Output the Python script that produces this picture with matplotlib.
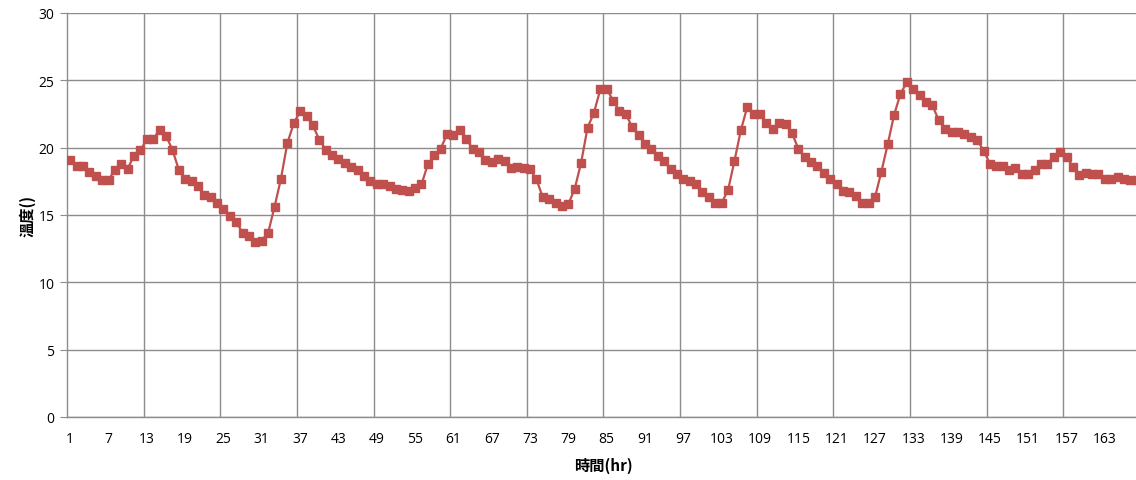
import numpy as np
import matplotlib
matplotlib.use("Agg")
import matplotlib.pyplot as plt

# hourly temperature readings, hours 1..168
hours = np.arange(1, 169)
temp = [
    19.06, 18.62, 18.62, 18.20, 17.88, 17.59, 17.59, 18.37, 18.77, 18.45,
    19.41, 19.80, 20.64, 20.64, 21.33, 20.89, 19.85, 18.37, 17.68, 17.50,
    17.17, 16.45, 16.30, 15.86, 15.44, 14.95, 14.46, 13.69, 13.45, 13.03,
    13.10, 13.69, 15.62, 17.70, 20.34, 21.80, 22.71, 22.36, 21.65, 20.59,
    19.85, 19.43, 19.19, 18.87, 18.57, 18.37, 17.93, 17.54, 17.27, 17.27,
    17.17, 16.95, 16.85, 16.80, 16.97, 17.27, 18.77, 19.43, 19.93, 20.99,
    20.91, 21.33, 20.67, 19.93, 19.68, 19.06, 18.94, 19.19, 18.99, 18.50,
    18.57, 18.48, 18.40, 17.65, 16.30, 16.22, 15.90, 15.65, 15.80, 16.96,
    18.89, 21.48, 22.59, 24.32, 24.37, 23.50, 22.72, 22.47, 21.53, 20.91,
    20.30, 19.93, 19.36, 19.01, 18.40, 18.07, 17.70, 17.53, 17.28, 16.72,
    16.30, 15.90, 15.90, 16.84, 19.01, 21.28, 23.01, 22.50, 22.52, 21.83,
    21.41, 21.83, 21.73, 21.09, 19.93, 19.31, 18.94, 18.62, 18.12, 17.70,
    17.28, 16.79, 16.69, 16.40, 15.90, 15.90, 16.30, 18.20, 20.25, 22.44,
    24.00, 24.86, 24.32, 23.93, 23.38, 23.14, 22.02, 21.41, 21.16, 21.16,
    21.03, 20.77, 20.59, 19.78, 18.82, 18.62, 18.62, 18.37, 18.52, 18.03,
    18.03, 18.37, 18.82, 18.82, 19.31, 19.68, 19.31, 18.57, 17.96, 18.13,
    18.03, 18.08, 17.64, 17.71, 17.83, 17.71, 17.59, 17.60,
]

fig = plt.figure(figsize=(11.36, 4.81), dpi=100)
ax = fig.add_axes([67 / 1136, 63 / 481, 1073 / 1136, 404 / 481])

ax.plot(hours, temp, color="#C0504D", lw=1.6, marker="s", ms=6,
        mec="#C0504D", mfc="#C0504D", zorder=3)

ax.set_xlim(0.5, 168.5)
ax.set_ylim(0, 30)
ax.set_yticks(np.arange(0, 31, 5))
ax.set_xticks(np.arange(1, 169, 6))
ax.set_xticks(np.arange(12.5, 169, 12), minor=True)

grid_c = "#8C8C8C"
ax.grid(axis="y", which="major", color=grid_c, lw=1)
ax.grid(axis="x", which="minor", color=grid_c, lw=1)
ax.grid(axis="x", which="major", visible=False)
ax.set_axisbelow(True)

for s in ["top", "right"]:
    ax.spines[s].set_visible(False)
for s in ["left", "bottom"]:
    ax.spines[s].set_color(grid_c)
    ax.spines[s].set_linewidth(1)

ax.tick_params(axis="y", length=5, color=grid_c, labelsize=10, pad=4)
ax.tick_params(axis="x", which="both", length=0, labelsize=10, pad=10)
for lab in ax.get_xticklabels() + ax.get_yticklabels():
    lab.set_family(["Open Sans", "DejaVu Sans"])

cjk = ["Noto Sans CJK TC", "DejaVu Sans"]
ax.set_xlabel("時間(hr)", family=cjk, fontweight="bold", fontsize=11, labelpad=8)
ax.set_ylabel("溫度()", family=cjk, fontweight="bold", fontsize=11, labelpad=2)

fig.savefig("out.png", dpi=100)
